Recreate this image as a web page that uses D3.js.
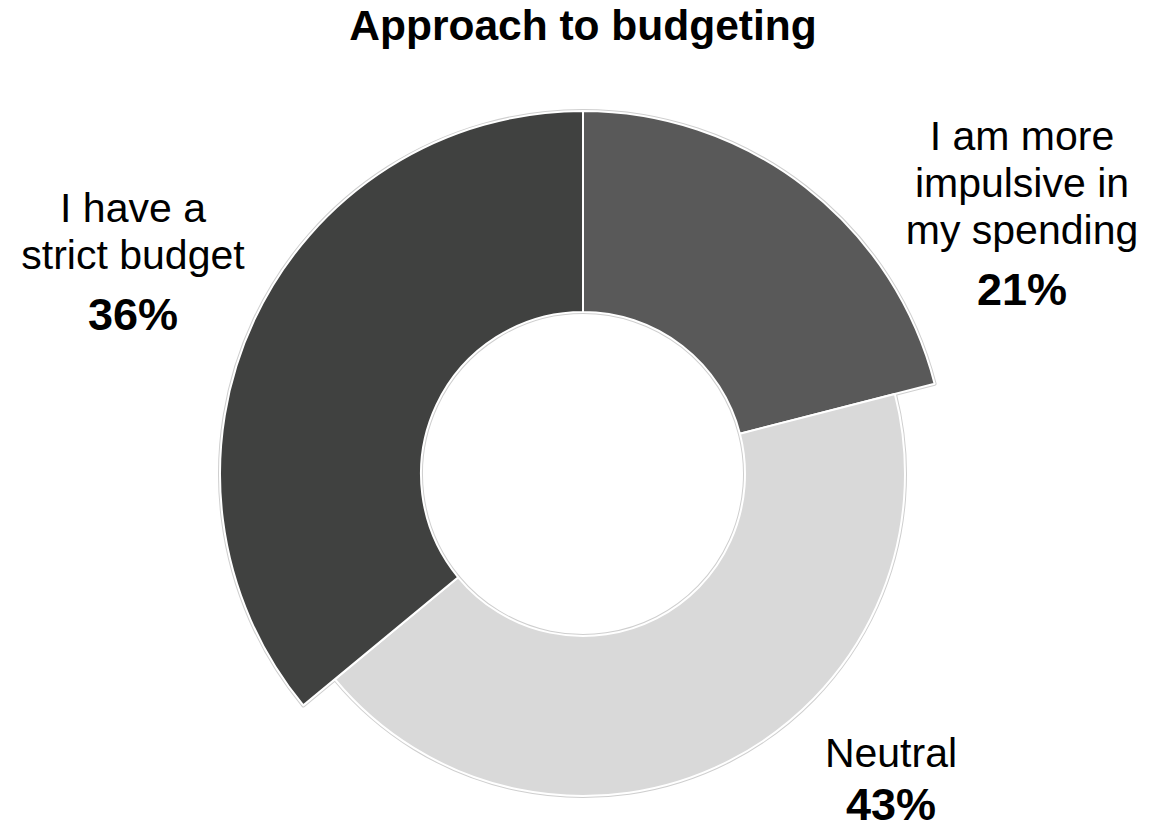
<!DOCTYPE html>
<html>
<head>
<meta charset="utf-8">
<script src="https://cdn.jsdelivr.net/npm/d3@7"></script>
<style>
  html, body { margin: 0; padding: 0; background: #ffffff; }
  svg { display: block; font-family: "Liberation Sans", Arial, Helvetica, sans-serif; }
</style>
</head>
<body>
<svg id="chart" width="1152" height="831"></svg>
<script>
// Survey responses: approach to budgeting (share of respondents, %)
const title = "Approach to budgeting";
const categories = ["I am more impulsive in my spending", "Neutral", "I have a strict budget"];
const labelLines = [["I am more", "impulsive in", "my spending"], ["Neutral"], ["I have a", "strict budget"]];
const values = [21, 43, 36];

// Drawing setup
const width = 1152, height = 831;
const cx = 583, cy = 474;
const innerR = 162;
const outerR = 363;
const insetOuterR = 322;               // the "Neutral" ring is drawn slightly narrower
const insetCategories = new Set(["Neutral"]);
const colors = d3.scaleOrdinal()
  .domain(categories)
  .range(["#595959", "#d9d9d9", "#404140"]);

const svg = d3.select("#chart");

svg.append("text")
  .attr("x", cx)
  .attr("y", 40)
  .attr("text-anchor", "middle")
  .attr("font-size", 42.5)
  .attr("font-weight", "bold")
  .attr("fill", "#000")
  .text(title);

const pie = d3.pie().sort(null).value(d => d.value);
const data = pie(categories.map((c, i) => ({ category: c, value: values[i], lines: labelLines[i] })));

const arcFor = d => d3.arc()
  .innerRadius(innerR)
  .outerRadius(insetCategories.has(d.data.category) ? insetOuterR : outerR)(d);

const g = svg.append("g").attr("transform", `translate(${cx},${cy})`);

// faint grey halo under the white slice borders
g.append("g").selectAll("path")
  .data(data)
  .join("path")
  .attr("d", arcFor)
  .attr("fill", "none")
  .attr("stroke", "#cfcfcf")
  .attr("stroke-width", 4)
  .attr("stroke-linejoin", "round");

g.append("g").selectAll("path")
  .data(data)
  .join("path")
  .attr("d", arcFor)
  .attr("fill", d => colors(d.data.category))
  .attr("stroke", "#ffffff")
  .attr("stroke-width", 2)
  .attr("stroke-linejoin", "round");

// Data labels placed outside each slice
const labelPlacement = {
  "I am more impulsive in my spending": { x: cx + 439, y: 150, gap: 61 },
  "Neutral": { x: cx + 308, y: 767, gap: 53 },
  "I have a strict budget": { x: cx - 450, y: 222, gap: 61 }
};
const lineStep = 47;

const labels = svg.append("g").selectAll("text")
  .data(data)
  .join("text")
  .attr("text-anchor", "middle")
  .attr("fill", "#000");

labels.each(function(d) {
  const p = labelPlacement[d.data.category];
  const t = d3.select(this);
  d.data.lines.forEach((line, i) => {
    t.append("tspan")
      .attr("x", p.x)
      .attr("y", p.y + i * lineStep)
      .attr("font-size", 41)
      .text(line);
  });
  t.append("tspan")
    .attr("x", p.x)
    .attr("y", p.y + (d.data.lines.length - 1) * lineStep + p.gap)
    .attr("font-size", 45)
    .attr("font-weight", "bold")
    .text(d.data.value + "%");
});
</script>
</body>
</html>
